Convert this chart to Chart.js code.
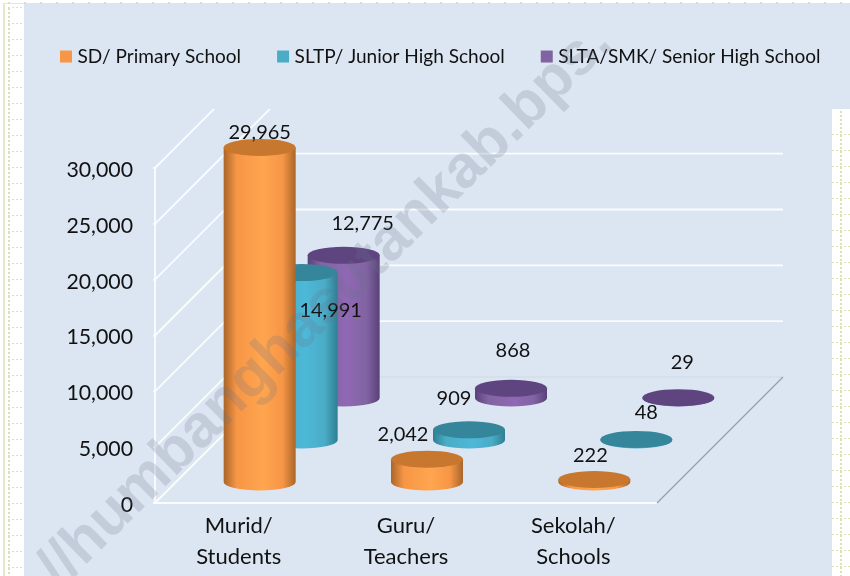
<!DOCTYPE html>
<html>
<head>
<meta charset="utf-8">
<style>
  html, body { margin: 0; padding: 0; background: #fff; }
  #wrap { width: 850px; height: 576px; }
</style>
<script src="https://cdn.jsdelivr.net/npm/chart.js@4"></script>
</head>
<body>
<div id="wrap"><canvas id="schoolChart"></canvas></div>
<script>
// Data
const categories = [['Murid/', 'Students'], ['Guru/', 'Teachers'], ['Sekolah/', 'Schools']];
const primary = [29965, 2042, 222];
const juniorHigh = [14991, 909, 48];
const seniorHigh = [12775, 868, 29];
const seriesNames = ['SD/ Primary School', 'SLTP/ Junior High School', 'SLTA/SMK/ Senior High School'];
const tickValues = [0, 5000, 10000, 15000, 20000, 25000, 30000];

// Look of the cylinders
const swatches = ['#F79646', '#4BACC6', '#8064A2'];
const tops = ['#C8772E', '#35859B', '#5F4580'];
const edges = ['#A9662A', '#2E7F93', '#5A4079'];
const lights = ['#FFA54F', '#4DB8D8', '#9068B4'];

// Value labels sit by hand around the cylinders, as in the original
const labelOffsets = [
  [[0, -15], [-24, -25], [-4, -24]],
  [[29, 38], [-15, -31], [10, -27]],
  [[19, -32], [2, -38], [4, -35]]
];

const FONT = 'Lato, "Open Sans", sans-serif';
const DEPTH = 126;      // depth of the floor, in pixels, same in x and y
const RY = 8.5;         // height of the cylinder ellipses
const PLOT_TOP = 109;   // wall picture is cut off here

const fmt = v => v.toLocaleString('en-US');

function drawPaper(ctx) {
  ctx.fillStyle = '#fff';
  ctx.fillRect(0, 0, 850, 576);
  ctx.fillStyle = '#DCE6F2';
  ctx.fillRect(24, 4, 826, 572);
  ctx.fillStyle = '#fff';
  ctx.fillRect(832, PLOT_TOP, 18, 467);

  // dotted page guides
  ctx.fillStyle = '#E3E9C9';
  ctx.fillRect(3, 3, 847, 1);
  ctx.fillRect(3, 3, 2, 573);
  ctx.fillStyle = '#D9E3B4';
  for (let x = 8; x < 850; x += 16) ctx.fillRect(x, 2, 2, 2);
  for (let y = 7; y < 576; y += 16) {
    for (let x = 8; x < 23; x += 4) ctx.fillRect(x, y, 2, 1);
    if (y > PLOT_TOP) for (let x = 832; x < 850; x += 4) ctx.fillRect(x, y + 15, 2, 1);
  }
  for (let y = 8; y < 576; y += 4) ctx.fillRect(8, y, 2, 2);
  for (let y = PLOT_TOP + 2; y < 576; y += 4) ctx.fillRect(840, y, 2, 2);
}

function drawWalls(chart) {
  const { ctx } = chart;
  const area = chart.chartArea;
  const yScale = chart.scales.y;
  const base = yScale.getPixelForValue(0);

  ctx.save();
  ctx.fillStyle = 'rgba(222,228,246,0.2)';
  ctx.fillRect(area.left - 5, PLOT_TOP, area.right + DEPTH + 4 - area.left + 5, base + 12 - PLOT_TOP);

  ctx.beginPath();
  ctx.rect(area.left - 8, PLOT_TOP, area.width + DEPTH + 16, base - PLOT_TOP + 6);
  ctx.clip();

  ctx.strokeStyle = 'rgba(255,255,255,0.85)';
  ctx.lineWidth = 1.8;
  tickValues.forEach(v => {
    const y = yScale.getPixelForValue(v);
    ctx.beginPath();
    ctx.moveTo(area.left - 2, y);
    ctx.lineTo(area.left, y);
    ctx.lineTo(area.left + DEPTH, y - DEPTH);
    if (v > 0) ctx.lineTo(area.right + DEPTH, y - DEPTH);
    ctx.stroke();
  });
  // left edge and front of the floor
  ctx.beginPath();
  ctx.moveTo(area.left, yScale.getPixelForValue(30000));
  ctx.lineTo(area.left, base);
  ctx.lineTo(area.right, base);
  ctx.stroke();
  // back and right edge of the floor
  ctx.strokeStyle = '#D2D8E2';
  ctx.lineWidth = 1;
  ctx.beginPath();
  ctx.moveTo(area.left + DEPTH, base - DEPTH);
  ctx.lineTo(area.right + DEPTH, base - DEPTH);
  ctx.stroke();
  ctx.strokeStyle = '#9A9EA8';
  ctx.lineWidth = 1.3;
  ctx.beginPath();
  ctx.moveTo(area.right, base);
  ctx.lineTo(area.right + DEPTH, base - DEPTH);
  ctx.stroke();
  ctx.restore();
}

function drawCylinder(ctx, bar, i) {
  const slot = DEPTH * (i + 0.5) / 3;
  const cx = bar.x + slot;
  const rx = bar.width / 2;
  const top = bar.y - slot;
  const bottom = bar.base - slot;

  const grad = ctx.createLinearGradient(cx - rx, 0, cx + rx, 0);
  grad.addColorStop(0, edges[i]);
  grad.addColorStop(0.18, swatches[i]);
  grad.addColorStop(0.55, lights[i]);
  grad.addColorStop(0.82, swatches[i]);
  grad.addColorStop(1, edges[i]);

  ctx.fillStyle = grad;
  ctx.beginPath();
  ctx.moveTo(cx - rx, top);
  ctx.lineTo(cx - rx, bottom);
  ctx.ellipse(cx, bottom, rx, RY, 0, Math.PI, 0, true);
  ctx.lineTo(cx + rx, top);
  ctx.closePath();
  ctx.fill();

  ctx.fillStyle = tops[i];
  ctx.beginPath();
  ctx.ellipse(cx, top, rx, RY, 0, 0, Math.PI * 2);
  ctx.fill();
}

const cylinders = {
  id: 'cylinders',
  beforeInit(chart) {
    // legend keeps the whole band above the plot and stays on one row
    const legend = chart.legend;
    const fit = legend.fit;
    const draw = legend.draw;
    legend.fit = function () {
      this.maxWidth = 900;
      fit.call(this);
      this.height = 161;
    };
    legend.draw = function () {
      this.right = 900;
      draw.call(this);
    };
  },
  beforeDraw(chart) {
    drawPaper(chart.ctx);
  },
  beforeDatasetsDraw(chart) {
    drawWalls(chart);
  },
  beforeDatasetDraw(chart, args) {
    args.meta.data.forEach(bar => drawCylinder(chart.ctx, bar, args.index));
    return false;
  },
  afterDatasetsDraw(chart) {
    const { ctx } = chart;
    ctx.save();
    ctx.fillStyle = '#111';
    ctx.font = '20px ' + FONT;
    ctx.textAlign = 'center';
    ctx.textBaseline = 'middle';
    chart.data.datasets.forEach((ds, i) => {
      const slot = DEPTH * (i + 0.5) / 3;
      chart.getDatasetMeta(i).data.forEach((bar, j) => {
        const off = labelOffsets[i][j];
        ctx.fillText(fmt(ds.data[j]), bar.x + slot + off[0], bar.y - slot + off[1]);
      });
    });
    ctx.restore();
  },
  afterDraw(chart) {
    // watermark
    const { ctx } = chart;
    ctx.save();
    ctx.beginPath();
    ctx.rect(24, 4, 826, 572);
    ctx.clip();
    ctx.translate(60, 590);
    ctx.rotate(-44.5 * Math.PI / 180);
    ctx.font = 'bold 60px "Liberation Sans", sans-serif';
    ctx.fillStyle = 'rgba(105,115,135,0.22)';
    ctx.textBaseline = 'alphabetic';
    ctx.fillText('//humbanghasutankab.bps.', 0, 0);
    ctx.restore();
  }
};

new Chart(document.getElementById('schoolChart'), {
  type: 'bar',
  data: {
    labels: categories,
    datasets: [
      { label: seriesNames[0], data: primary, backgroundColor: swatches[0] },
      { label: seriesNames[1], data: juniorHigh, backgroundColor: swatches[1] },
      { label: seriesNames[2], data: seniorHigh, backgroundColor: swatches[2] }
    ]
  },
  plugins: [cylinders],
  options: {
    responsive: true,
    maintainAspectRatio: false,
    animation: false,
    grouped: false,
    barThickness: 72,
    layout: { padding: { left: 24, top: 7 } },
    plugins: {
      tooltip: { enabled: false },
      legend: {
        position: 'top',
        align: 'start',
        labels: {
          usePointStyle: true,
          pointStyle: 'rect',
          boxWidth: 4,
          boxHeight: 12,
          padding: 40,
          color: '#111',
          font: { family: FONT, size: 19.05 }
        }
      }
    },
    scales: {
      x: {
        grid: { display: false },
        border: { display: false },
        ticks: {
          color: '#111',
          padding: 0,
          maxRotation: 0,
          font: { family: FONT, size: 22, lineHeight: 1.4 }
        },
        afterFit(scale) { scale.height = 73; }
      },
      y: {
        min: 0,
        max: 30000,
        grid: { display: false },
        border: { display: false },
        afterBuildTicks(scale) {
          scale.ticks = tickValues.map(v => ({ value: v }));
        },
        ticks: {
          color: '#111',
          padding: 14,
          labelOffset: 2,
          callback: v => fmt(v),
          font: { family: FONT, size: 21.3 }
        },
        afterFit(scale) { scale.width = 131; }
      },
      // empty axis, only keeps the room for the depth of the floor
      spacer: {
        type: 'linear',
        position: 'right',
        grid: { display: false },
        border: { display: false },
        ticks: { display: false },
        afterFit(scale) { scale.width = 193; }
      }
    }
  }
});
</script>
</body>
</html>
